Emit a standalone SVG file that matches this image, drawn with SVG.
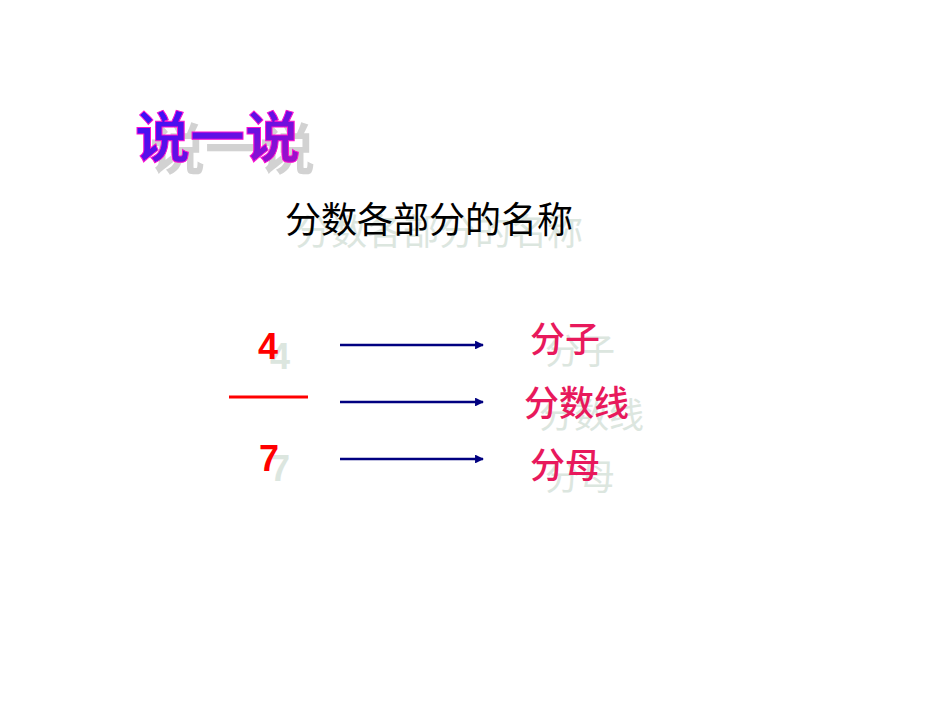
<svg xmlns="http://www.w3.org/2000/svg" width="950" height="713" viewBox="0 0 950 713">
<defs>
<linearGradient id="tg" x1="0" y1="0" x2="1" y2="1">
<stop offset="0" stop-color="#2a10ff"/>
<stop offset="0.6" stop-color="#6a10e0"/>
<stop offset="1" stop-color="#b010c0"/>
</linearGradient>
<marker id="ah" viewBox="0 0 10 10" refX="9" refY="5" markerWidth="3.4" markerHeight="3.4" orient="auto" markerUnits="strokeWidth">
<path d="M0,0 L10,5 L0,10 z" fill="#000080"/>
</marker>
<style>
.cjk{font-family:"Noto Sans CJK SC","Noto Sans",sans-serif;}
.sh{fill:#dce6df;}
.lbl{fill:#e8195c;font-size:35px;font-weight:500;}
.num{font-family:"Liberation Sans",Arial,sans-serif;font-weight:bold;font-size:36px;}
.arr{stroke:#000080;stroke-width:2.6;fill:none;marker-end:url(#ah);}
</style>
</defs>
<rect width="950" height="713" fill="#ffffff"/>
<g id="title">
<text x="150" y="169" class="cjk" font-size="55" font-weight="bold" fill="#d2d2d2">说一说</text>
<text x="135" y="157" class="cjk" font-size="55" font-weight="bold" fill="url(#tg)" stroke="#ff10d0" stroke-width="1">说一说</text>
</g>
<g id="subtitle">
<text x="295" y="245" class="cjk sh" font-size="36">分数各部分的名称</text>
<text x="285" y="233" class="cjk" font-size="36" fill="#000000">分数各部分的名称</text>
</g>
<g id="fraction">
<text x="270" y="369" class="num sh">4</text>
<text x="258" y="359" class="num" fill="#ff0000">4</text>
<line x1="229" y1="397" x2="308" y2="397" stroke="#ff0000" stroke-width="3.2"/>
<text x="270" y="481" class="num sh">7</text>
<text x="259" y="471" class="num" fill="#ff0000">7</text>
</g>
<g id="connectors">
<line class="arr" x1="340" y1="345" x2="483" y2="345"/>
<line class="arr" x1="340" y1="402" x2="483" y2="402"/>
<line class="arr" x1="340" y1="459" x2="483" y2="459"/>
</g>
<g id="label-numerator">
<text x="545" y="364" class="cjk sh" font-size="35">分子</text>
<text x="530" y="352" class="cjk lbl">分子</text>
</g>
<g id="label-line">
<text x="539" y="428" class="cjk sh" font-size="35">分数线</text>
<text x="524" y="416" class="cjk lbl">分数线</text>
</g>
<g id="label-denominator">
<text x="545" y="490" class="cjk sh" font-size="35">分母</text>
<text x="530" y="478" class="cjk lbl">分母</text>
</g>
</svg>
